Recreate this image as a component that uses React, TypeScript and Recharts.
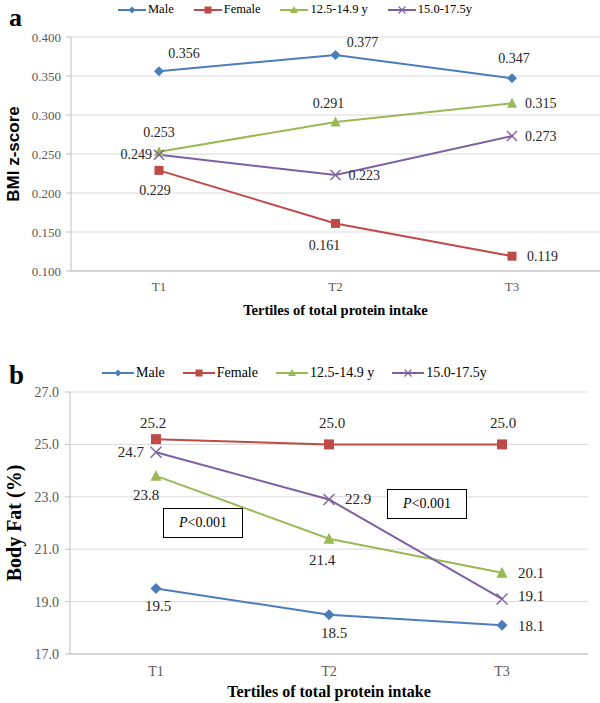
import { LineChart, Line, XAxis, YAxis, CartesianGrid, LabelList } from "recharts";

const categories = ["T1", "T2", "T3"];

// panel a – BMI z-score
const bmiMale = [0.356, 0.377, 0.347];
const bmiFemale = [0.229, 0.161, 0.119];
const bmiYoung = [0.253, 0.291, 0.315];
const bmiOld = [0.249, 0.223, 0.273];
const bmiTicks = [0.1, 0.15, 0.2, 0.25, 0.3, 0.35, 0.4];

// panel b – body fat (%)
const fatMale = [19.5, 18.5, 18.1];
const fatFemale = [25.2, 25.0, 25.0];
const fatYoung = [23.8, 21.4, 20.1];
const fatOld = [24.7, 22.9, 19.1];
const fatTicks = [17, 19, 21, 23, 25, 27];

const seriesNames = ["Male", "Female", "12.5-14.9 y", "15.0-17.5y"];

const BLUE = "#4a7ebb";
const RED = "#be4b48";
const GREEN = "#98b954";
const PURPLE = "#7d60a0";
const SERIF = "Liberation Serif, Times New Roman, serif";
const SANS = "Liberation Sans, Arial, sans-serif";

const bmiRows = categories.map((cat, i) => ({
  cat,
  male: bmiMale[i],
  female: bmiFemale[i],
  young: bmiYoung[i],
  old: bmiOld[i],
}));

const fatRows = categories.map((cat, i) => ({
  cat,
  male: fatMale[i],
  female: fatFemale[i],
  young: fatYoung[i],
  old: fatOld[i],
}));

type Pos = { dx: number; dy: number; anchor: "start" | "middle" | "end" };
const P = (dx: number, dy: number, anchor: Pos["anchor"] = "middle"): Pos => ({ dx, dy, anchor });

// where each data label sits relative to its point (Excel moved some by hand)
const bmiLabelPos: Record<string, Pos[]> = {
  male: [P(25, -18), P(27, -12), P(2, -20)],
  female: [P(-4, 20), P(-11, 22), P(15, 0, "start")],
  young: [P(0, -19), P(-7, -19), P(13, 0, "start")],
  old: [P(-7, 0, "end"), P(13, 0, "start"), P(13, 0, "start")],
};

const fatLabelPos: Record<string, Pos[]> = {
  male: [P(2, 17), P(5, 18), P(16, 1, "start")],
  female: [P(-3, -16), P(3, -21), P(1, -21)],
  young: [P(-10, 19), P(-7, 21), P(16, 0, "start")],
  old: [P(-12, 0, "end"), P(16, 0, "start"), P(16, -3, "start")],
};

// ---- markers ----
const diamond = (color: string, r: number) => (p: any) => {
  const { cx, cy } = p;
  if (cx == null || cy == null) return <g key={`dm-${p.index}`} />;
  return (
    <path
      key={`dm-${p.index}`}
      d={`M${cx},${cy - r}L${cx + r},${cy}L${cx},${cy + r}L${cx - r},${cy}Z`}
      fill={color}
    />
  );
};

const square = (color: string, s: number) => (p: any) => {
  const { cx, cy } = p;
  if (cx == null || cy == null) return <g key={`sq-${p.index}`} />;
  return <rect key={`sq-${p.index}`} x={cx - s / 2} y={cy - s / 2} width={s} height={s} fill={color} />;
};

const triangle = (color: string, s: number) => (p: any) => {
  const { cx, cy } = p;
  if (cx == null || cy == null) return <g key={`tr-${p.index}`} />;
  const h = s * 0.9;
  return (
    <path
      key={`tr-${p.index}`}
      d={`M${cx},${cy - h / 2 - 1}L${cx + s / 2},${cy + h / 2}L${cx - s / 2},${cy + h / 2}Z`}
      fill={color}
    />
  );
};

const cross = (color: string, r: number) => (p: any) => {
  const { cx, cy } = p;
  if (cx == null || cy == null) return <g key={`cx-${p.index}`} />;
  return (
    <path
      key={`cx-${p.index}`}
      d={`M${cx - r},${cy - r}L${cx + r},${cy + r}M${cx - r},${cy + r}L${cx + r},${cy - r}`}
      stroke={color}
      strokeWidth={1.4}
      fill="none"
    />
  );
};

const makeLabel = (pos: Pos[], digits: number, fontSize: number) => (props: any) => {
  const { index, value } = props;
  const x = props.x ?? props.viewBox?.x;
  const y = props.y ?? props.viewBox?.y;
  const o = pos[index] || P(0, -15);
  return (
    <text
      key={`lb-${index}`}
      x={x + o.dx}
      y={y + o.dy}
      textAnchor={o.anchor}
      dominantBaseline="central"
      fontSize={fontSize}
      fontFamily={SERIF}
      fill="#262626"
    >
      {Number(value).toFixed(digits)}
    </text>
  );
};

const yTitle = (text: string, x: number, style: React.CSSProperties) => (props: any) => {
  const vb = props.viewBox;
  const cy = vb.y + vb.height / 2;
  return (
    <text
      x={x}
      y={cy}
      transform={`rotate(-90 ${x} ${cy})`}
      textAnchor="middle"
      dominantBaseline="central"
      fill="#000"
      style={style}
    >
      {text}
    </text>
  );
};

const legendIcons = [
  (cx: number, cy: number) => <path d={`M${cx},${cy - 3.5}L${cx + 3.5},${cy}L${cx},${cy + 3.5}L${cx - 3.5},${cy}Z`} fill={BLUE} />,
  (cx: number, cy: number) => <rect x={cx - 3.5} y={cy - 3.5} width={7} height={7} fill={RED} />,
  (cx: number, cy: number) => <path d={`M${cx},${cy - 4}L${cx + 4},${cy + 3}L${cx - 4},${cy + 3}Z`} fill={GREEN} />,
  (cx: number, cy: number) => (
    <path
      d={`M${cx - 3.5},${cy - 3.5}L${cx + 3.5},${cy + 3.5}M${cx - 3.5},${cy + 3.5}L${cx + 3.5},${cy - 3.5}`}
      stroke={PURPLE}
      strokeWidth={1.2}
    />
  ),
];
const legendColors = [BLUE, RED, GREEN, PURPLE];

const ChartLegend = ({ left, top, line, gap, fontSize }: { left: number; top: number; line: number; gap: number; fontSize: number }) => (
  <div style={{ position: "absolute", left, top, display: "flex", alignItems: "center", fontFamily: SERIF, fontSize, color: "#000", whiteSpace: "nowrap" }}>
    {seriesNames.map((name, i) => (
      <div key={name} style={{ display: "flex", alignItems: "center", marginRight: gap }}>
        <svg width={line} height={12} style={{ display: "block" }}>
          <line x1={0} y1={6} x2={line} y2={6} stroke={legendColors[i]} strokeWidth={2} />
          {legendIcons[i](line / 2, 6)}
        </svg>
        <span style={{ marginLeft: 2 }}>{name}</span>
      </div>
    ))}
  </div>
);

const PBox = ({ left, top }: { left: number; top: number }) => (
  <div
    style={{
      position: "absolute",
      left,
      top,
      width: 80,
      height: 30,
      border: "1px solid #000",
      background: "#fff",
      boxSizing: "border-box",
      display: "flex",
      alignItems: "center",
      justifyContent: "center",
      fontFamily: SERIF,
      fontSize: 14,
      color: "#000",
    }}
  >
    <i>P</i>&lt;0.001
  </div>
);

const tickStyleA = { fill: "#595959", fontSize: 13, fontFamily: SERIF };
const tickStyleB = { fill: "#595959", fontSize: 14, fontFamily: SERIF };

const seriesKeys = ["male", "female", "young", "old"];
const seriesColors = [BLUE, RED, GREEN, PURPLE];
const dotsA = [diamond(BLUE, 5), square(RED, 9), triangle(GREEN, 10), cross(PURPLE, 5)];
const dotsB = [diamond(BLUE, 5.5), square(RED, 10), triangle(GREEN, 11), cross(PURPLE, 5.5)];

export default function App() {
  return (
    <div style={{ position: "absolute", left: 0, top: 0, width: 600, height: 703, background: "#fff", overflow: "hidden" }}>
      {/* panel a */}
      <div style={{ position: "absolute", left: 0, top: 0 }}>
        <LineChart width={600} height={330} data={bmiRows} margin={{ top: 37, right: 0, left: 0, bottom: 0 }}>
          <CartesianGrid vertical={false} stroke="#d9d9d9" />
          <XAxis
            dataKey="cat"
            height={59}
            padding={{ left: 88, right: 88 }}
            axisLine={{ stroke: "#bfbfbf" }}
            tickLine={false}
            tickSize={0}
            tickMargin={11}
            tick={tickStyleA}
            label={{
              value: "Tertiles of total protein intake",
              position: "insideBottom",
              offset: 15,
              style: { fontFamily: SERIF, fontWeight: 700, fontSize: 14.5, fill: "#000" },
            }}
          />
          <YAxis
            width={71}
            domain={[0.1, 0.4]}
            ticks={bmiTicks}
            interval={0}
            tickFormatter={(v: number) => v.toFixed(3)}
            axisLine={{ stroke: "#bfbfbf" }}
            tickLine={{ stroke: "#bfbfbf" }}
            tickSize={5}
            tickMargin={5}
            tick={tickStyleA}
            label={{ content: yTitle("BMI z-score", 13, { fontFamily: SANS, fontWeight: 700, fontSize: 17 }) }}
          />
          {seriesKeys.map((k, i) => (
            <Line
              key={k}
              dataKey={k}
              name={seriesNames[i]}
              type="linear"
              stroke={seriesColors[i]}
              strokeWidth={2}
              dot={dotsA[i]}
              activeDot={false}
              isAnimationActive={false}
            >
              <LabelList dataKey={k} content={makeLabel(bmiLabelPos[k], 3, 14)} />
            </Line>
          ))}
        </LineChart>
        <ChartLegend left={118} top={2} line={28} gap={20} fontSize={12.5} />
        <div style={{ position: "absolute", left: 9, top: 3, fontFamily: SERIF, fontWeight: 700, fontSize: 26, color: "#000" }}>a</div>
      </div>

      {/* panel b */}
      <div style={{ position: "absolute", left: 0, top: 360 }}>
        <LineChart width={600} height={343} data={fatRows} margin={{ top: 32, right: 12, left: 0, bottom: 0 }}>
          <CartesianGrid vertical={false} stroke="#d9d9d9" />
          <XAxis
            dataKey="cat"
            height={49}
            padding={{ left: 86, right: 86 }}
            axisLine={{ stroke: "#bfbfbf" }}
            tickLine={false}
            tickSize={0}
            tickMargin={12}
            tick={tickStyleB}
            label={{
              value: "Tertiles of total protein intake",
              position: "insideBottom",
              offset: 6,
              style: { fontFamily: SERIF, fontWeight: 700, fontSize: 16, fill: "#000" },
            }}
          />
          <YAxis
            width={70}
            domain={[17, 27]}
            ticks={fatTicks}
            interval={0}
            tickFormatter={(v: number) => v.toFixed(1)}
            axisLine={{ stroke: "#bfbfbf" }}
            tickLine={{ stroke: "#bfbfbf" }}
            tickSize={5}
            tickMargin={6}
            tick={tickStyleB}
            label={{ content: yTitle("Body Fat (%)", 14, { fontFamily: SERIF, fontWeight: 700, fontSize: 20 }) }}
          />
          {seriesKeys.map((k, i) => (
            <Line
              key={k}
              dataKey={k}
              name={seriesNames[i]}
              type="linear"
              stroke={seriesColors[i]}
              strokeWidth={2}
              dot={dotsB[i]}
              activeDot={false}
              isAnimationActive={false}
            >
              <LabelList dataKey={k} content={makeLabel(fatLabelPos[k], 1, 15)} />
            </Line>
          ))}
        </LineChart>
        <ChartLegend left={102} top={5} line={32} gap={18} fontSize={14} />
        <div style={{ position: "absolute", left: 9, top: 0, fontFamily: SERIF, fontWeight: 700, fontSize: 27, color: "#000" }}>b</div>
        <PBox left={163} top={148} />
        <PBox left={387} top={129} />
      </div>
    </div>
  );
}
